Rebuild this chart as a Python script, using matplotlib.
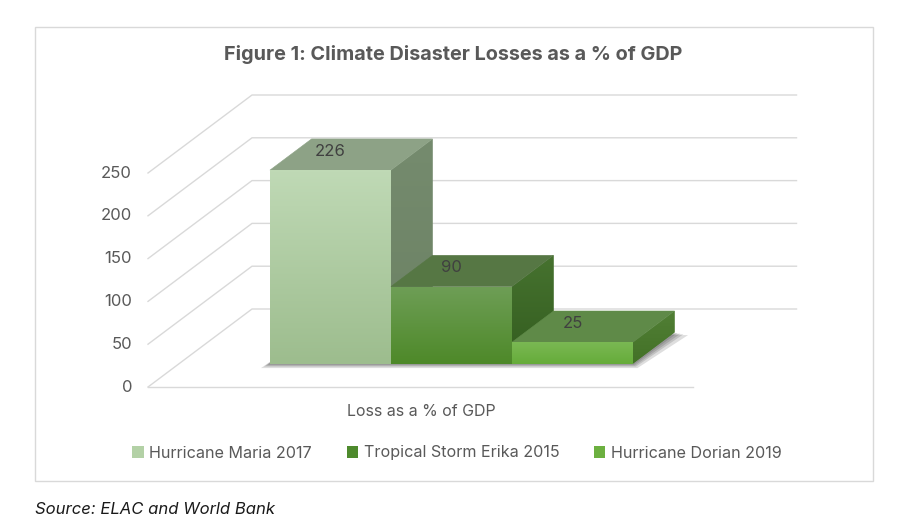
import numpy as np
import matplotlib
matplotlib.use("Agg")
import matplotlib.pyplot as plt
from matplotlib.patches import Polygon, Rectangle, Patch
from matplotlib.colors import LinearSegmentedColormap

plt.rcParams['font.family'] = ['Inter', 'DejaVu Sans']

# data
series = ["Hurricane Maria 2017", "Tropical Storm Erika 2015", "Hurricane Dorian 2019"]
values = [226, 90, 25]
yticks = [0, 50, 100, 150, 200, 250]
category = "Loss as a % of GDP"
title = "Figure 1: Climate Disaster Losses as a % of GDP"
source = "Source: ELAC and World Bank"

# colours per series (front gradient, top, side gradient, legend swatch)
front_top = ["#bfd9b5", "#6e9e56", "#7ab853"]
front_bot = ["#9dbd8e", "#4e8929", "#66ac3a"]
top_col = ["#8da286", "#567744", "#5f8a48"]
side_top = ["#758b6e", "#46722f", "#517f35"]
side_bot = ["#6b8163", "#335d1f", "#437127"]
legend_col = ["#b3d1a6", "#4e8a2d", "#6cb040"]
grey = "#595959"
grid = "#d9d9d9"

W, H = 913, 532
fig = plt.figure(figsize=(W / 100, H / 100), dpi=100)
ax = fig.add_axes([0, 0, 1, 1])

# fake 3d box: u = bar slots, v = value units
PX_U = 121.0
PX_V = 0.856
X0, Y0 = 148, 387
xlim = (-X0 / PX_U, (W - X0) / PX_U)
ylim = (-(H - Y0) / PX_V, Y0 / PX_V)
DX, DY = 104 / PX_U, 78 / PX_V
FLOOR = 4.5
d0, d1 = 0.3, 0.7


def P(u, v, d):
    return (u + d * DX, v + d * DY)


def grad_face(pts, c_top, c_bot, z):
    poly = Polygon(pts, closed=True, fc=c_top, ec='none', zorder=z)
    ax.add_patch(poly)
    xs = [p[0] for p in pts]
    ys = [p[1] for p in pts]
    cmap = LinearSegmentedColormap.from_list('g', [c_bot, c_top])
    img = ax.imshow(np.linspace(0, 1, 64).reshape(-1, 1), cmap=cmap,
                    extent=[min(xs), max(xs), min(ys), max(ys)], origin='lower',
                    aspect='auto', zorder=z, interpolation='bilinear')
    img.set_clip_path(poly)


# gridlines on side and back wall
for t in yticks:
    a, b, c = P(0, t, 0), P(0, t, 1), P(FLOOR, t, 1)
    ax.plot([a[0], b[0], c[0]], [a[1], b[1], c[1]], color=grid, lw=1.0, zorder=1)
    ax.text(-16 / PX_U, t, str(t), ha='right', va='center', fontsize=12, color=grey)
ax.plot([0, FLOOR], [0, 0], color=grid, lw=1.0, zorder=1)

n = len(values)
start = (FLOOR - n) / 2

# soft shadow of the bar footprint
for k, e in enumerate([9, 6, 4, 2]):
    eu, ev = e / PX_U, e / PX_V
    fl = P(start, 0, d0)
    fr = P(start + n, 0, d0)
    br = P(start + n, 0, d1)
    bl = P(start, 0, d1)
    pts = [(fl[0] - eu, fl[1] - ev * 0.5), (fr[0] + eu * 0.5, fr[1] - ev * 0.5),
           (br[0] + eu * 1.5, br[1] - ev * 0.3), (bl[0], bl[1])]
    ax.add_patch(Polygon(pts, closed=True, fc='black', ec='none', alpha=0.13, zorder=2))

for i, val in enumerate(values):
    x0 = start + i
    z = 3 + i
    front = [P(x0, 0, d0), P(x0 + 1, 0, d0), P(x0 + 1, val, d0), P(x0, val, d0)]
    top = [P(x0, val, d0), P(x0 + 1, val, d0), P(x0 + 1, val, d1), P(x0, val, d1)]
    side = [P(x0 + 1, 0, d0), P(x0 + 1, 0, d1), P(x0 + 1, val, d1), P(x0 + 1, val, d0)]
    grad_face(side, side_top[i], side_bot[i], z)
    ax.add_patch(Polygon(top, closed=True, fc=top_col[i], ec=top_col[i], lw=0.4, zorder=z))
    grad_face(front, front_top[i], front_bot[i], z + 0.1)
    lx = x0 + 0.5 + d0 * DX
    ly = val + 0.5 * (d0 + d1) * DY + 3 / PX_V
    ax.text(lx, ly, str(val), ha='center', va='center', fontsize=12, color='#404040', zorder=10)

ax.text((421 - X0) / PX_U, (Y0 - 411) / PX_V, category, ha='center', va='center',
        fontsize=11.5, color=grey)

ax.set_xlim(*xlim)
ax.set_ylim(*ylim)
ax.axis('off')

# outer chart border
fig.patches.append(Rectangle((35 / W, 1 - 481 / H), 838 / W, 454 / H, transform=fig.transFigure,
                             fill=False, ec=grid, lw=1.0))

fig.text(453 / W, 1 - 54 / H, title, ha='center', va='center', fontsize=14.3,
         fontweight='bold', color=grey)

handles = [Patch(fc=c, ec='none') for c in legend_col]
fig.legend(handles, series, loc='center', bbox_to_anchor=(457 / W, 1 - 453 / H), ncol=3,
           frameon=False, handlelength=0.7, handleheight=0.7, handletextpad=0.35,
           columnspacing=2.15, fontsize=11.6, labelcolor=grey)

fig.text(35 / W, 1 - 510 / H, source, ha='left', va='center', fontsize=12,
         style='italic', color='#1a1a1a')

fig.savefig("out.png", dpi=100)
